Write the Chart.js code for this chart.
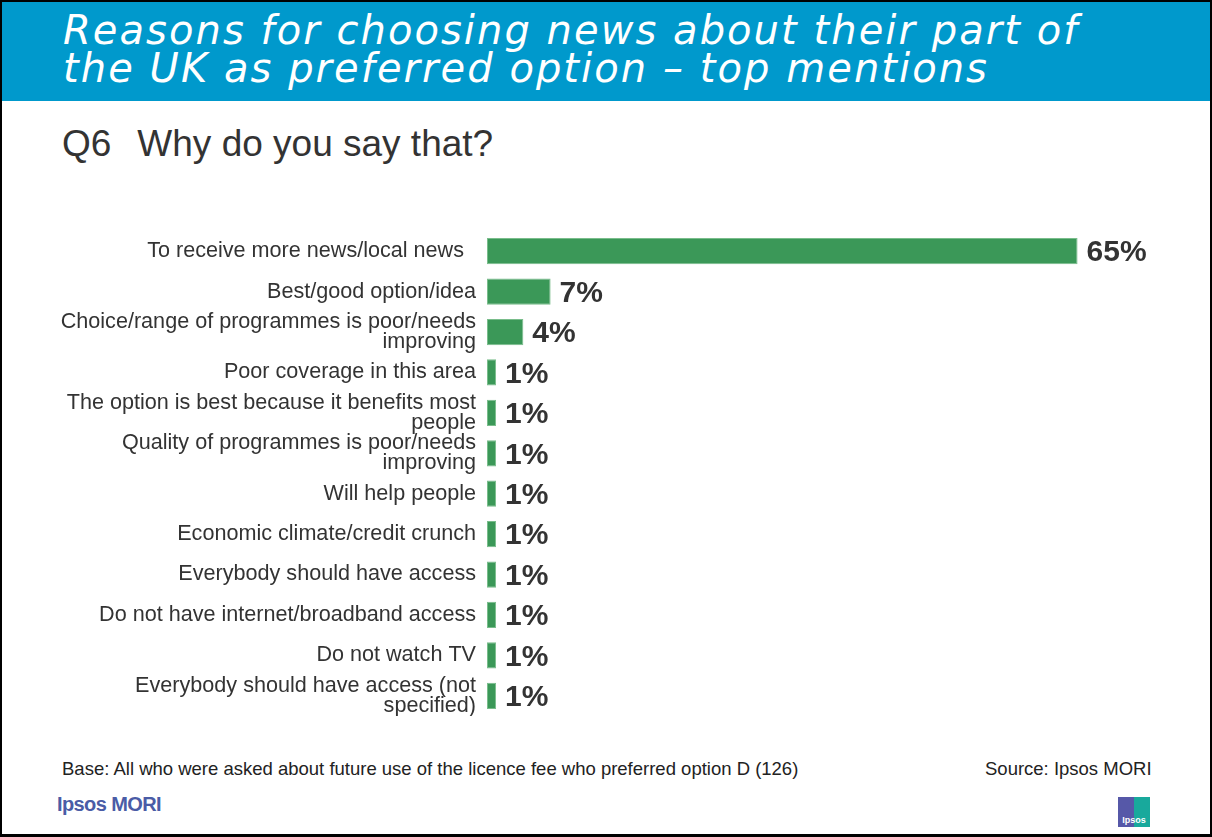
<!DOCTYPE html>
<html>
<head>
<meta charset="utf-8">
<script src="https://cdn.jsdelivr.net/npm/chart.js@4"></script>
<style>
  html, body { margin: 0; padding: 0; background: #fff; }
  #page {
    position: absolute; left: 0; top: 0; width: 1212px; height: 837px;
    box-sizing: border-box; border: 2px solid #000; border-bottom-width: 3px;
    overflow: hidden; font-family: "Liberation Sans", Arial, sans-serif; color: #333;
  }
  #header {
    position: absolute; left: 0; top: 0; width: 1208px; height: 99px; background: #0099cc;
  }
  #header h1 {
    margin: 0; position: absolute; left: 61px; top: 9px;
    font-family: "DejaVu Sans", sans-serif; font-style: italic; font-weight: normal;
    font-size: 40px; line-height: 38px; color: #fff; letter-spacing: 2.05px;
  }
  #question {
    position: absolute; left: 60px; top: 121px; font-size: 37px; color: #333;
  }
  #question span { margin-right: 26px; }
  #chartBox { position: absolute; left: -2px; top: 229px; width: 1212px; height: 485px; }
  #base { position: absolute; left: 60px; top: 756px; font-size: 18.5px; color: #222; }
  #source { position: absolute; left: 983px; top: 756px; font-size: 18.5px; color: #222; }
  #brand {
    position: absolute; left: 55px; top: 791px; font-size: 20px; font-weight: bold;
    color: #4a5ca6; letter-spacing: -0.6px;
  }
  #logo {
    position: absolute; left: 1116px; top: 795px; width: 32px; height: 30px;
    background: linear-gradient(90deg, #5658a8 0 50%, #18a99c 50% 100%);
    color: #fff; font-size: 9px; font-weight: bold; text-align: center;
    line-height: 10px; padding-top: 18px; box-sizing: border-box;
  }
</style>
</head>
<body>
<div id="page">
  <div id="header">
    <h1>Reasons for choosing news about their part of<br>the UK as preferred option – top mentions</h1>
  </div>
  <div id="question"><span>Q6</span>Why do you say that?</div>
  <div id="chartBox"><canvas id="reasonsChart"></canvas></div>
  <div id="base">Base: All who were asked about future use of the licence fee who preferred option D (126)</div>
  <div id="source">Source: Ipsos MORI</div>
  <div id="brand">Ipsos MORI</div>
  <div id="logo">Ipsos</div>
</div>

<script>
// Reasons given, top to bottom (multi-line labels as arrays)
const reasonLabels = [
    'To receive more news/local news  ',
    'Best/good option/idea',
    ['Choice/range of programmes is poor/needs', 'improving'],
    'Poor coverage in this area',
    ['The option is best because it benefits most', 'people'],
    ['Quality of programmes is poor/needs', 'improving'],
    'Will help people',
    'Economic climate/credit crunch',
    'Everybody should have access',
    'Do not have internet/broadband access',
    'Do not watch TV',
    ['Everybody should have access (not', 'specified)']
];

// Percentage of respondents mentioning each reason
const reasonPercents = [65, 7, 4, 1, 1, 1, 1, 1, 1, 1, 1, 1];

const BAR_FILL = '#3b9858';
const BAR_EDGE = '#79bd8b';
const TEXT_COLOR = '#333333';

// Writes the percentage to the right of each bar
const valueLabels = {
    id: 'valueLabels',
    afterDatasetsDraw(chart) {
        const ctx = chart.ctx;
        const meta = chart.getDatasetMeta(0);
        ctx.save();
        ctx.font = 'bold 30px "Liberation Sans", Arial, sans-serif';
        ctx.fillStyle = TEXT_COLOR;
        ctx.textAlign = 'left';
        ctx.textBaseline = 'middle';
        meta.data.forEach((bar, i) => {
            ctx.fillText(reasonPercents[i] + '%', bar.x + 9, bar.y + 2);
        });
        ctx.restore();
    }
};

const ctx = document.getElementById('reasonsChart').getContext('2d');
window.reasonsChart = new Chart(ctx, {
    type: 'bar',
    data: {
        labels: reasonLabels,
        datasets: [{
            data: reasonPercents,
            backgroundColor: BAR_FILL,
            borderColor: BAR_EDGE,
            borderWidth: 1,
            borderSkipped: false,
            barPercentage: 0.65,
            categoryPercentage: 1.0
        }]
    },
    options: {
        indexAxis: 'y',
        responsive: true,
        maintainAspectRatio: false,
        animation: false,
        layout: { padding: { left: 0, right: 89, top: 0, bottom: 0 } },
        plugins: {
            legend: { display: false },
            tooltip: { enabled: false }
        },
        scales: {
            x: {
                display: false,
                min: 0,
                max: 70
            },
            y: {
                grid: { display: false, drawTicks: false },
                border: { display: false },
                afterFit: function(scale) {
                    // fixed label column; no extra room above/below for label overhang
                    scale.width = 487;
                    scale.paddingTop = 0;
                    scale.paddingBottom = 0;
                },
                ticks: {
                    autoSkip: false,
                    color: TEXT_COLOR,
                    padding: 11,
                    font: { family: '"Liberation Sans", Arial, sans-serif', size: 21.6, lineHeight: 0.92 }
                }
            }
        }
    },
    plugins: [valueLabels]
});
</script>
</body>
</html>
